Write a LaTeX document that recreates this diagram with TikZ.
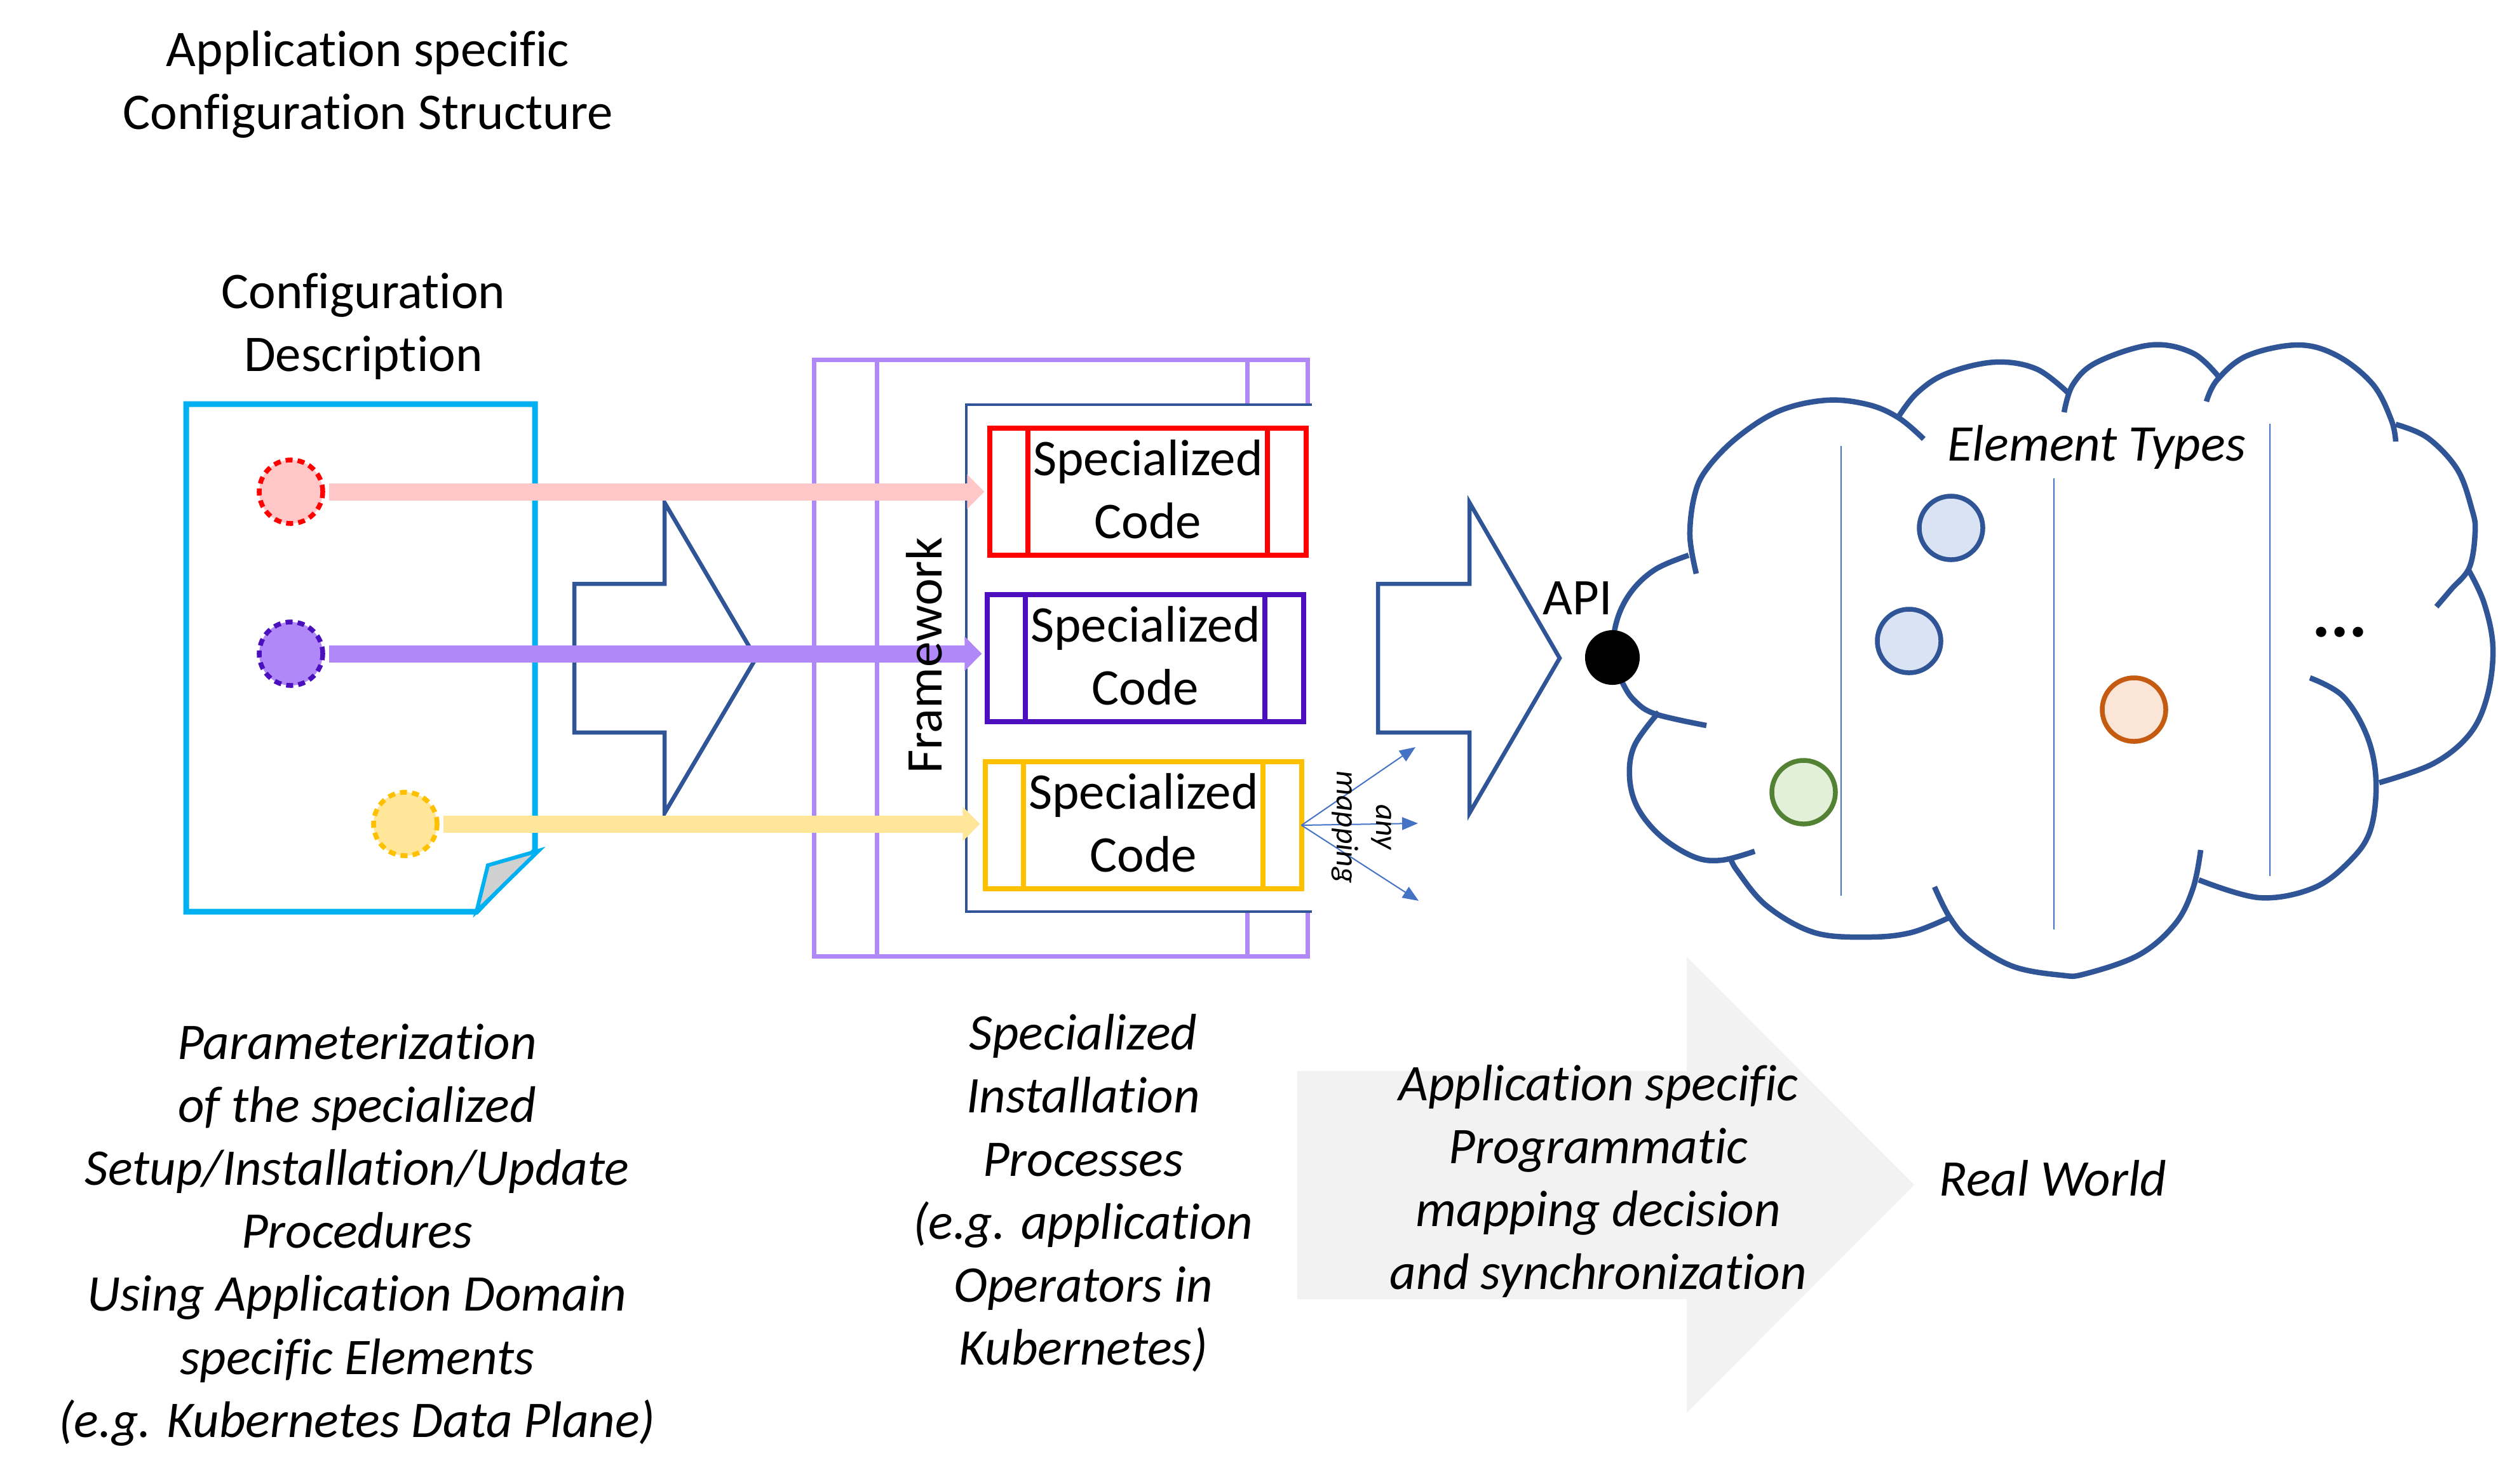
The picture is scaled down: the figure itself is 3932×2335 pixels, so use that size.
\documentclass[tikz,border=0pt]{standalone}
\usepackage{fontspec}
\setmainfont{Carlito}[Ligatures=NoCommon]
\usetikzlibrary{arrows.meta,calc}
\definecolor{cDoc}{HTML}{00B0F0}
\definecolor{cNavy}{HTML}{2F5597}
\definecolor{cLav}{HTML}{B088F8}
\definecolor{cPink}{HTML}{FFC7C7}
\definecolor{cYel}{HTML}{FFE699}
\definecolor{cGold}{HTML}{FFC000}
\definecolor{cViolet}{HTML}{4B0FBE}
\definecolor{cMap}{HTML}{4472C4}
\definecolor{cLtBlue}{HTML}{DAE3F3}
\definecolor{cLtOrange}{HTML}{FBE5D6}
\definecolor{cOrange}{HTML}{C55A11}
\definecolor{cLtGreen}{HTML}{E2F0D9}
\definecolor{cGreen}{HTML}{548235}
\definecolor{cArrowGray}{HTML}{F2F2F2}
\definecolor{cFold}{HTML}{D0D0D0}
\begin{document}
\begin{tikzpicture}[x=0.01cm,y=-0.01cm,
  txt/.style={font=\fontsize{23}{28.17}\selectfont, align=center, inner sep=0pt},
  itxt/.style={txt, font=\fontsize{23}{28.17}\selectfont\itshape},
  codebox/.style={draw, line width=0.08cm, minimum width=4.97cm, minimum height=2cm, txt, text depth=0.22em},
  dotc/.style={circle, minimum size=1cm, line width=0.075cm, dash pattern=on 0.11cm off 0.08cm, inner sep=0pt},
  feed/.style={line width=0.27cm, -{Triangle[length=0.27cm,width=0.53cm]}},
  bump/.style={cNavy, line width=0.085cm},
  elem/.style={circle, minimum size=1cm, line width=0.075cm, inner sep=0pt},
  maparrow/.style={cMap, line width=0.02cm, -{Triangle[length=0.25cm,width=0.2cm]}},
  blockarrow/.style={draw=cNavy, line width=0.065cm, line join=miter, fill=white},
  fwline/.style={cLav, line width=0.07cm},
  sepline/.style={cMap, line width=0.02cm},
]
\useasboundingbox (0,0) rectangle (3932,2335);

% bottom gray arrow
\fill[cArrowGray] (2042,1686) -- (2655,1686) -- (2655,1506) -- (3013,1865) -- (2655,2224) -- (2655,2045) -- (2042,2045) -- cycle;

% texts
\node[txt] (title) at (579,133) {Application specific\\Configuration Structure};
\node[txt] (cfgdesc) at (572,514) {Configuration\\Description};
\node[itxt] (param) at (562,1944) {Parameterization\\of the specialized\\Setup/Installation/Update\\Procedures\\Using Application Domain\\specific Elements\\(e.g. Kubernetes Data Plane)};
\node[itxt] (procs) at (1705,1878) {Specialized\\Installation\\Processes\\(e.g. application\\Operators in\\Kubernetes)};
\node[itxt] (mapdec) at (2516,1859) {Application specific\\Programmatic\\mapping decision\\and synchronization};
\node[itxt, anchor=base west] (real) at (3052,1882) {Real World};

% configuration document
\draw[cDoc, line width=0.09cm, line join=miter] (293,636) -- (842,636) -- (842,1339) -- (750,1435) -- (293,1435) -- cycle;
\draw[cDoc, line width=0.06cm, fill=cFold] (750,1435) -- (768,1362) -- (848,1339) -- cycle;

% first block arrow
\draw[blockarrow] (904,919) -- (1046,919) -- (1046,791) -- (1190,1036) -- (1046,1280) -- (1046,1153) -- (904,1153) -- cycle;

% framework
\draw[fwline] (1281,566) rectangle (2058,1505);
\draw[fwline] (1380,566) -- (1380,1505);
\draw[fwline] (1963,566) -- (1963,1505);
\fill[white] (1521,637) rectangle (2068,1435);
\draw[cNavy, line width=0.045cm] (2065,637) -- (1521,637) -- (1521,1435) -- (2065,1435);

% specialized code boxes
\node[codebox, draw=red] (rbox) at (1807,774) {Specialized\\Code};
\node[codebox, draw=cViolet] (pbox) at (1803,1036) {Specialized\\Code};
\node[codebox, draw=cGold] (ybox) at (1800,1299) {Specialized\\Code};
\foreach \b/\c in {rbox/red, pbox/cViolet, ybox/cGold}{
  \draw[\c, line width=0.08cm] ($(\b.north west)!0.125!(\b.north east)$) -- ($(\b.south west)!0.125!(\b.south east)$);
  \draw[\c, line width=0.08cm] ($(\b.north west)!0.873!(\b.north east)$) -- ($(\b.south west)!0.873!(\b.south east)$);
}

% parameter circles
\node[dotc, fill=cPink, draw=red] (rc) at (458,774) {};
\node[dotc, fill=cLav, draw=cViolet] (pc) at (458,1029) {};
\node[dotc, fill=cYel, draw=cGold] (yc) at (638,1297) {};

% feed arrows
\draw[feed, cPink] ([xshift=0.06cm]rc.east) -- ([xshift=-0.05cm]rc.east -| rbox.west);
\draw[feed, cLav] ([xshift=0.06cm]pc.east) -- ([xshift=-0.05cm]pc.east -| pbox.west);
\draw[feed, cYel] ([xshift=0.06cm]yc.east) -- ([xshift=-0.05cm]yc.east -| ybox.west);

\node[txt, rotate=90] (fw) at (1455,1032) {Framework};

% any mapping
\coordinate (m1) at (2228,1176);
\coordinate (m2) at (2232,1296);
\coordinate (m3) at (2233,1418);
\draw[maparrow] ([xshift=-0.04cm]ybox.east) -- (m1);
\draw[maparrow] ([xshift=-0.04cm]ybox.east) -- (m2);
\draw[maparrow] ([xshift=-0.04cm]ybox.east) -- (m3);
\node[font=\fontsize{14}{17.6}\selectfont\itshape, align=center, inner sep=0pt, rotate=-90] (anymap) at (2143,1302) {any\\mapping};

% second block arrow
\draw[blockarrow] (2169,919) -- (2313,919) -- (2313,791) -- (2455,1036) -- (2313,1280) -- (2313,1153) -- (2169,1153) -- cycle;
\node[txt] (api) at (2483,942) {API};

% cloud
\draw[bump] plot[smooth, tension=0.6] coordinates {(2658,874) (2606,896) (2568,931) (2545,977) (2538,1035) (2554,1075) (2573,1103) (2606,1124) (2686,1142)};
\draw[bump] plot[smooth, tension=0.6] coordinates {(2611,1121) (2573,1173) (2565,1223) (2578,1272) (2615,1317) (2667,1349) (2710,1354) (2762,1340)};
\draw[bump] plot[smooth, tension=0.6] coordinates {(2670,903) (2660,844) (2667,781) (2686,739) (2734,689) (2800,647) (2875,630) (2941,637) (2989,658) (3028,691)};
\draw[bump] plot[smooth, tension=0.6] coordinates {(2987,658) (3017,619) (3064,588) (3140,570) (3206,581) (3258,621)};
\draw[bump] plot[smooth, tension=0.6] coordinates {(3249,649) (3263,605) (3301,570) (3386,543) (3452,556) (3494,595)};
\draw[bump] plot[smooth, tension=0.6] coordinates {(3473,632) (3490,598) (3537,560) (3617,543) (3679,560) (3735,605) (3764,661) (3771,695)};
\draw[bump] plot[smooth, tension=0.6] coordinates {(3771,668) (3821,689) (3868,739) (3891,802) (3896,837) (3887,893) (3858,928) (3835,955)};
\draw[bump] plot[smooth, tension=0.6] coordinates {(3885,896) (3910,949) (3924,1019) (3915,1096) (3887,1156) (3830,1202) (3745,1232)};
\draw[bump] plot[smooth, tension=0.6] coordinates {(3636,1067) (3688,1096) (3726,1159) (3740,1230) (3731,1307) (3698,1356) (3641,1398) (3556,1413) (3461,1385)};
\draw[bump] plot[smooth, tension=0.6] coordinates {(3464,1338) (3452,1398) (3424,1454) (3367,1503) (3282,1533) (3244,1535) (3168,1521) (3102,1482) (3069,1444) (3045,1396)};
\draw[bump] plot[smooth, tension=0.6] coordinates {(3069,1444) (3008,1468) (2941,1475) (2856,1468) (2781,1426) (2734,1370) (2724,1350)};

\draw[sepline] (2898,702) -- (2898,1410);
\draw[sepline] (3233,753) -- (3233,1463);
\draw[sepline] (3573,667) -- (3573,1379);

\node[itxt] (etypes) at (3300,704) {Element Types};
\node[elem, fill=cLtBlue, draw=cNavy] (e1) at (3071,831) {};
\node[elem, fill=cLtBlue, draw=cNavy] (e2) at (3005,1009) {};
\node[elem, fill=cLtOrange, draw=cOrange] (e3) at (3359,1117) {};
\node[elem, fill=cLtGreen, draw=cGreen] (e4) at (2839,1247) {};
\node[inner sep=0pt, font=\fontsize{31}{36}\selectfont\bfseries] (dots) at (3683,995) {...};

\node[circle, fill=black, minimum size=0.86cm, inner sep=0pt] (apidot) at (2538,1035) {};
\end{tikzpicture}
\end{document}
